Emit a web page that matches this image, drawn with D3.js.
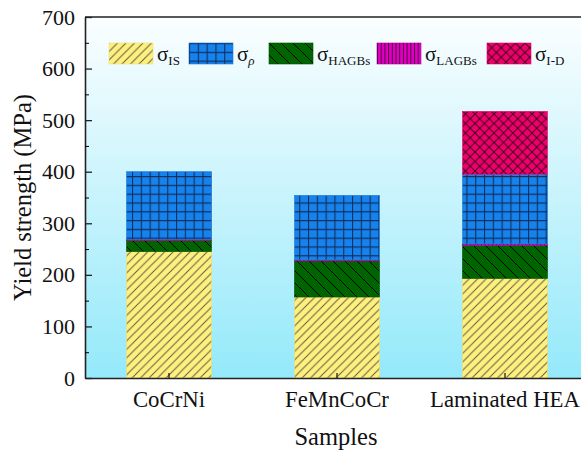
<!DOCTYPE html>
<html>
<head>
<meta charset="utf-8">
<script src="https://cdn.jsdelivr.net/npm/d3@7"></script>
<style>
  html, body { margin: 0; padding: 0; background: #fff; }
  svg { display: block; font-family: "Liberation Serif", "Times New Roman", serif; }
</style>
</head>
<body>
<svg id="chart" width="581" height="451"></svg>
<script>
// Yield-strength contributions per sample (MPa)
const samples = ["CoCrNi", "FeMnCoCr", "Laminated HEA"];
const sigmaIS    = [245, 157, 193];
const sigmaHAGBs = [22, 70, 64];
const sigmaLAGBs = [2, 2, 3];
const sigmaRho   = [131, 125, 135];
const sigmaID    = [0, 0, 122];
const yTicks = [0, 100, 200, 300, 400, 500, 600, 700];

// stacking order, bottom to top
const seriesKeys = ["IS", "HAGBs", "LAGBs", "rho", "ID"];
const seriesValues = { IS: sigmaIS, HAGBs: sigmaHAGBs, LAGBs: sigmaLAGBs, rho: sigmaRho, ID: sigmaID };
// legend order
const legendKeys = ["IS", "rho", "HAGBs", "LAGBs", "ID"];
const legendSub = { IS: "IS", rho: "ρ", HAGBs: "HAGBs", LAGBs: "LAGBs", ID: "I-D" };

const table = samples.map((s, i) => {
  const row = { sample: s };
  seriesKeys.forEach(k => row[k] = seriesValues[k][i]);
  return row;
});

const svg = d3.select("#chart");
const margin = { left: 85, top: 17, bottom: 73 };
const plotW = 504;
const plotH = 451 - margin.top - margin.bottom;

const x = d3.scaleBand().domain(samples)
  .range([margin.left, margin.left + plotW])
  .paddingInner(0.494).paddingOuter(0.247);
const y = d3.scaleLinear().domain([0, 700]).range([margin.top + plotH, margin.top]);

const defs = svg.append("defs");

// background gradient
const grad = defs.append("linearGradient").attr("id", "bg")
  .attr("x1", 0).attr("y1", 0).attr("x2", 0).attr("y2", 1);
grad.append("stop").attr("offset", "0%").attr("stop-color", "#fbfeff");
grad.append("stop").attr("offset", "100%").attr("stop-color", "#94e9fa");

// fill patterns
function pattern(id, w, h, bg, stroke, sw, d) {
  const p = defs.append("pattern").attr("id", id)
    .attr("patternUnits", "userSpaceOnUse").attr("width", w).attr("height", h);
  p.append("rect").attr("width", w).attr("height", h).attr("fill", bg);
  p.append("path").attr("d", d).attr("stroke", stroke).attr("stroke-width", sw)
    .attr("fill", "none").attr("shape-rendering", "auto");
}
pattern("p-IS", 8.5, 8.5, "#fff07c", "#5a5a50", 1,
  "M0,8.5L8.5,0M-2,2L2,-2M6.5,10.5L10.5,6.5");
pattern("p-rho", 8.8, 8.8, "#1682ee", "#13305c", 1.2,
  "M0.5,0V8.8M0,0.5H8.8");
pattern("p-HAGBs", 12, 12, "#006400", "#000000", 1,
  "M0,0L12,12M-3,9L3,15M9,-3L15,3");
pattern("p-LAGBs", 3.7, 10, "#e000c0", "#4a0040", 1,
  "M0.5,0V10");
pattern("p-ID", 9.5, 9.5, "#f0006c", "#3a0020", 1,
  "M0,0L9.5,9.5M9.5,0L0,9.5");

const edgeColor = { IS: "#f0e070", rho: "#1a78d8", HAGBs: "#005000", LAGBs: "#b000a0", ID: "#e0106a" };

// plot background
svg.append("rect")
  .attr("x", margin.left).attr("y", margin.top)
  .attr("width", plotW).attr("height", plotH)
  .attr("fill", "url(#bg)");

// stacked bars
const stack = d3.stack().keys(seriesKeys)(table);
svg.append("g").selectAll("g").data(stack).join("g")
  .attr("fill", d => `url(#p-${d.key})`)
  .attr("stroke", d => edgeColor[d.key])
  .attr("stroke-width", 0.6)
  .selectAll("rect").data(d => d.filter(v => v[1] - v[0] > 0)).join("rect")
  .attr("x", d => x(d.data.sample))
  .attr("width", x.bandwidth())
  .attr("y", d => y(d[1]))
  .attr("height", d => y(d[0]) - y(d[1]));

// y axis with inward ticks and minor ticks
const yAxis = svg.append("g").attr("transform", `translate(${margin.left},0)`)
  .call(d3.axisLeft(y).tickValues(yTicks).tickSize(-7).tickPadding(10).tickSizeOuter(0));
svg.append("g").attr("transform", `translate(${margin.left},0)`)
  .call(d3.axisLeft(y).tickValues(d3.range(50, 700, 100)).tickSize(-4).tickFormat("").tickSizeOuter(0))
  .select(".domain").remove();

// x axis with inward ticks
const xAxis = svg.append("g").attr("transform", `translate(0,${margin.top + plotH})`)
  .call(d3.axisBottom(x).tickSize(-5).tickPadding(13).tickSizeOuter(0));

[yAxis, xAxis].forEach(g => {
  g.selectAll("text").attr("font-size", 22).attr("fill", "#111")
    .attr("font-family", "Liberation Serif, serif");
  g.selectAll("line").attr("stroke", "#222").attr("stroke-width", 1.3);
  g.select(".domain").attr("stroke", "#222").attr("stroke-width", 1.6);
});
xAxis.selectAll("text").attr("font-size", 22.8);

// top frame line
svg.append("line")
  .attr("x1", margin.left).attr("x2", margin.left + plotW)
  .attr("y1", margin.top).attr("y2", margin.top)
  .attr("stroke", "#222").attr("stroke-width", 1.6);

// axis titles
svg.append("text")
  .attr("transform", `translate(31,${margin.top + plotH / 2}) rotate(-90)`)
  .attr("text-anchor", "middle").attr("font-size", 24.5).attr("fill", "#111")
  .text("Yield strength (MPa)");
svg.append("text")
  .attr("x", 336).attr("y", 445)
  .attr("text-anchor", "middle").attr("font-size", 24.5).attr("fill", "#111")
  .text("Samples");

// legend
const legendX = { IS: 109, rho: 189, HAGBs: 269, LAGBs: 377, ID: 487 };
const lg = svg.append("g");
legendKeys.forEach(k => {
  const g = lg.append("g").attr("transform", `translate(${legendX[k]},43)`);
  g.append("rect").attr("width", 44).attr("height", 21)
    .attr("fill", `url(#p-${k})`).attr("stroke", edgeColor[k]).attr("stroke-width", 0.6);
  const t = g.append("text").attr("x", 48).attr("y", 18).attr("font-size", 21).attr("fill", "#111");
  t.append("tspan").text("σ");
  t.append("tspan").attr("dy", 4).attr("font-size", 13)
    .attr("font-style", k === "rho" ? "italic" : "normal")
    .text(legendSub[k]);
});
</script>
</body>
</html>
